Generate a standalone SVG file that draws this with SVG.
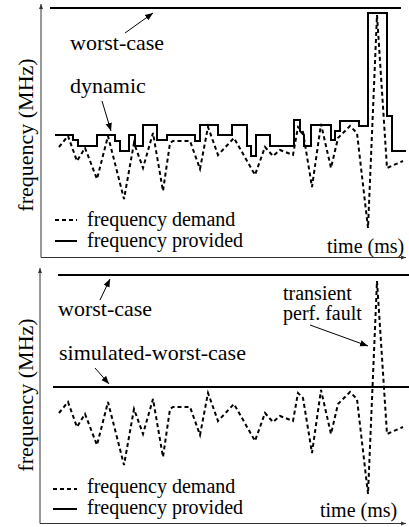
<svg xmlns="http://www.w3.org/2000/svg" xmlns:xlink="http://www.w3.org/1999/xlink" width="409" height="527" viewBox="0 0 409 527">
<style>
text{font-family:"Liberation Serif","Times New Roman",serif;font-size:20px;fill:#000}
text.big{font-size:22px}
.axis{stroke:#333;stroke-width:1;fill:none}
.solid{stroke:#000;stroke-width:2;fill:none}
.dash{stroke:#000;stroke-width:2;fill:none;stroke-dasharray:4,3}
.lbl{stroke:#000;stroke-width:1;fill:none}
</style>
<defs>
<marker id="ah" viewBox="0 0 10 10" refX="10" refY="5" markerWidth="8" markerHeight="8" markerUnits="userSpaceOnUse" orient="auto">
<path d="M0,1 L10,5 L0,9 Z" fill="#000"/>
</marker>
<marker id="ax" viewBox="0 0 10 10" refX="10" refY="5" markerWidth="5" markerHeight="5" markerUnits="userSpaceOnUse" orient="auto">
<path d="M0,1 L10,5 L0,9 Z" fill="#333"/>
</marker>
<path id="demand" d="M59,147 L68,136 L77,161 L85,148 L97,179 L108,136 L124,199 L134,143 L143,168 L153,133 L163,191 L170,143 L173,141 L190,141 L200,169 L208,127 L218,155 L234,138 L255,175 L265,147 L273,156 L280,150 L293,155 L298,127 L303,132 L312,187 L321,124 L331,168 L338,138 L350,126 L357,133 L368,228 L377,15 L387,168 L403,161"/>
</defs>

<g id="top-panel">
<g id="top-axes">
<path class="axis" d="M41,257.5 V4" marker-end="url(#ax)"/>
<path class="axis" d="M41,257.5 H406" marker-end="url(#ax)"/>
<text class="big" transform="translate(33,135) rotate(-90)" text-anchor="middle">frequency (MHz)</text>
<text x="327" y="253">time (ms)</text>
</g>
<g id="top-worst-case">
<path class="solid" d="M50,8 H401"/>
<text class="big" x="70" y="50">worst-case</text>
</g>
<g id="top-dynamic">
<path class="solid" d="M55,135 H73 V140 H78 V146 H97 V135 H115 V141 H120 V151 H129 V135 H135 V146 H143 V125 H157 V140 H167 V135 H195 V141 H200 V125 H218 V135 H232 V125 H247 V146 H251 V156 H256 V135 H270 V146 H294 V120 H300 V131 L304,135 V146 H311 V125 H331 V140 H335 V131 H340 V121 H359 V126 H368 V13 H387 V116 H392 V151 H406"/>
<text class="big" x="70" y="93">dynamic</text>
</g>
<g id="top-demand">
<use xlink:href="#demand" class="dash"/>
</g>
<g id="top-legend">
<path class="dash" d="M55,220 H77"/>
<text x="87" y="226">frequency demand</text>
<path class="solid" d="M55,241 H77"/>
<text x="87" y="247">frequency provided</text>
</g>
</g>

<g id="bottom-panel">
<g id="bottom-axes">
<path class="axis" d="M40,523.5 V268" marker-end="url(#ax)"/>
<path class="axis" d="M40,523.5 H406" marker-end="url(#ax)"/>
<text class="big" transform="translate(33,395) rotate(-90)" text-anchor="middle">frequency (MHz)</text>
<text x="320" y="517">time (ms)</text>
</g>
<g id="bottom-worst-case">
<path class="solid" d="M58,275 H409"/>
<text class="big" x="58" y="316">worst-case</text>
</g>
<g id="bottom-simulated-worst-case">
<path class="solid" d="M53,387 H409"/>
<text class="big" x="59" y="360">simulated-worst-case</text>
</g>
<g id="bottom-demand">
<use xlink:href="#demand" class="dash" transform="translate(0,266)"/>
</g>
<g id="bottom-transient">
<text x="283" y="300">transient</text>
<text x="283" y="320">perf. fault</text>
</g>
<g id="bottom-legend">
<path class="dash" d="M53,489 H77"/>
<text x="87" y="493">frequency demand</text>
<path class="solid" d="M53,509 H77"/>
<text x="87" y="514">frequency provided</text>
</g>
</g>

<g id="connectors">
<path class="lbl" d="M125,33 L153,13" marker-end="url(#ah)"/>
<path class="lbl" d="M102,101 L111,131" marker-end="url(#ah)"/>
<path class="lbl" d="M100,300 L110,279" marker-end="url(#ah)"/>
<path class="lbl" d="M95,368 L109,384" marker-end="url(#ah)"/>
<path class="lbl" d="M310,325 L368,346" marker-end="url(#ah)"/>
</g>
</svg>
